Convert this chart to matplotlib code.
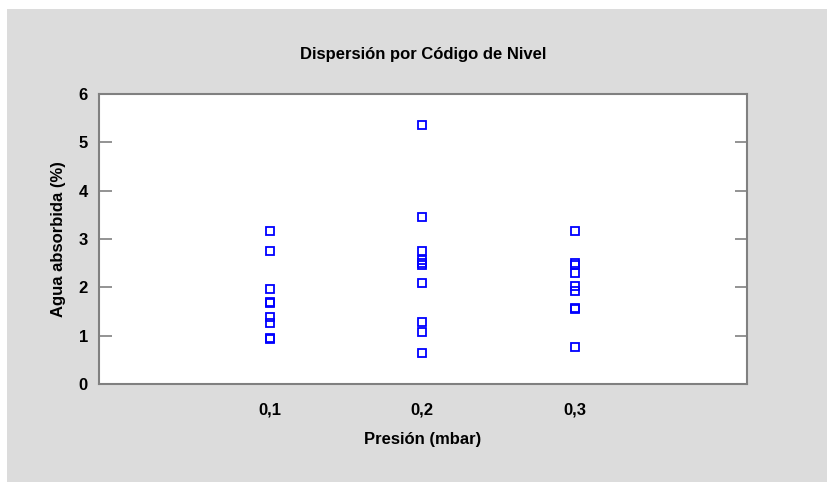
import matplotlib.pyplot as plt
from matplotlib.patches import Rectangle

plt.rcParams['font.family'] = ['Liberation Sans', 'DejaVu Sans']

# data
presion = [0.1, 0.2, 0.3]
agua_01 = [3.17, 2.75, 1.97, 1.70, 1.67, 1.39, 1.27, 0.95, 0.93]
agua_02 = [5.35, 3.45, 2.76, 2.56, 2.51, 2.46, 2.10, 1.28, 1.08, 0.65]
agua_03 = [3.17, 2.50, 2.46, 2.29, 2.02, 1.92, 1.58, 1.55, 0.77]
grupos = [agua_01, agua_02, agua_03]

fig = plt.figure(figsize=(8.27, 4.82), dpi=100)
fig.patch.set_facecolor('white')
fig.patches.append(Rectangle((7 / 827, 0), 1, (482 - 9) / 482, transform=fig.transFigure,
                             facecolor='#dcdcdc', edgecolor='none', zorder=-1))

ax = fig.add_axes([0.1197, 0.2033, 0.7836, 0.6017])
for p, vals in zip(presion, grupos):
    ax.plot([p] * len(vals), vals, linestyle='none', marker='s', markersize=6,
            markerfacecolor='none', markeredgecolor='#0000ff', markeredgewidth=1.3)

ax.set_xlim(-0.012, 0.413)
ax.set_ylim(0, 6)
ax.set_xticks(presion)
ax.set_xticklabels(['0,1', '0,2', '0,3'], fontsize=12, fontweight='bold')
ax.set_yticks(range(7))
ax.set_yticklabels([str(i) for i in range(7)], fontsize=12, fontweight='bold')
ax.tick_params(axis='x', length=0, pad=13)
ax.tick_params(axis='y', direction='in', length=9, width=1.2, color='#808080',
               left=True, right=True, pad=8)

for s in ax.spines.values():
    s.set_color('#808080')
    s.set_linewidth(1.5)

ax.set_title('Dispersión por Código de Nivel', fontsize=12, fontweight='bold', pad=25)
ax.set_xlabel('Presión (mbar)', fontsize=12, fontweight='bold', labelpad=11)
ax.set_ylabel('Agua absorbida (%)', fontsize=12, fontweight='bold', labelpad=9)

plt.savefig('out.png', dpi=100)
